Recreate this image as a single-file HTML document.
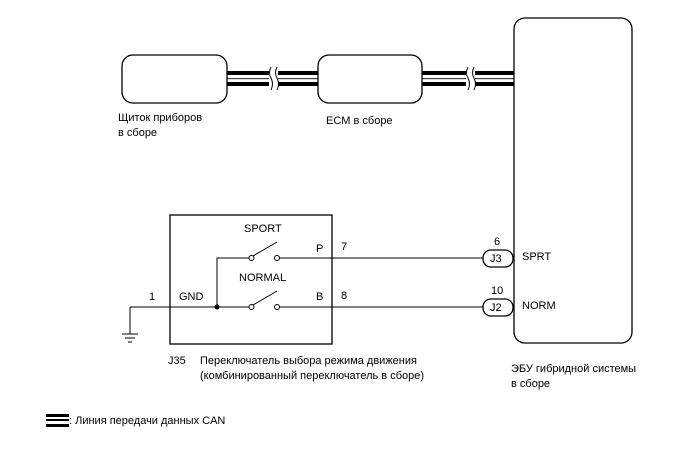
<!DOCTYPE html>
<html><head><meta charset="utf-8"><style>
body{margin:0;background:#fff}
svg text{font-family:"Liberation Sans",Arial,sans-serif;font-size:11px;fill:#000}
</style></head><body>
<svg width="688" height="463" viewBox="0 0 688 463" xmlns="http://www.w3.org/2000/svg">
<g id="cable">
<rect x="227" y="71" width="91" height="4" fill="#000"/>
<rect x="227" y="78" width="91" height="1.2" fill="#444"/>
<rect x="227" y="82" width="91" height="4" fill="#000"/>
<rect x="422" y="71" width="92" height="4" fill="#000"/>
<rect x="422" y="78" width="92" height="1.2" fill="#444"/>
<rect x="422" y="82" width="92" height="4" fill="#000"/>
</g>
<rect x="269" y="66" width="9" height="26" fill="#fff"/>
<rect x="466" y="66" width="9" height="26" fill="#fff"/>
<path d="M271 67 q-3 6 0 11 q3 6 0 12 M277 67 q-3 6 0 11 q3 6 0 12" fill="none" stroke="#000"/>
<path d="M468 67 q-3 6 0 11 q3 6 0 12 M474 67 q-3 6 0 11 q3 6 0 12" fill="none" stroke="#000"/>
<rect x="122" y="55" width="105" height="48" rx="11" fill="#fff" stroke="#000" stroke-width="1.3"/>
<rect x="318" y="55" width="104" height="48" rx="11" fill="#fff" stroke="#000" stroke-width="1.3"/>
<rect x="514" y="18" width="118" height="325" rx="11" fill="#fff" stroke="#000" stroke-width="1.3"/>
<text x="118" y="121">Щиток приборов</text>
<text x="118" y="136">в сборе</text>
<text x="326" y="124">ECM в сборе</text>
<text x="511" y="372">ЭБУ гибридной системы</text>
<text x="511" y="387">в сборе</text>
<rect x="170" y="215" width="162" height="129" fill="none" stroke="#000" stroke-width="1.3"/>
<g stroke="#000" fill="none" stroke-width="1">
<path d="M130 307 H249 M130 307 V334 M122 334 H138 M125 338 H135 M128 342 H132"/>
<path d="M217 307 V258 H249"/>
<path d="M279 258 H483 M279 307 H483"/>
<circle cx="251.5" cy="258" r="2.5" fill="#fff"/><circle cx="277" cy="258" r="2.5" fill="#fff"/>
<circle cx="251.5" cy="307" r="2.5" fill="#fff"/><circle cx="277" cy="307" r="2.5" fill="#fff"/>
<path d="M253 256 L277 242 M253 305 L277 291"/>
<rect x="483" y="250" width="30" height="17" rx="8" fill="#fff" stroke-width="1.3"/>
<rect x="483" y="299" width="30" height="17" rx="8" fill="#fff" stroke-width="1.3"/>
</g>
<circle cx="217" cy="307" r="2.5" fill="#000"/>
<text x="244" y="232">SPORT</text>
<text x="239" y="281">NORMAL</text>
<text x="316" y="252">P</text><text x="341" y="250">7</text>
<text x="316" y="300">B</text><text x="341" y="299">8</text>
<text x="149" y="300">1</text><text x="179" y="300">GND</text>
<text x="490" y="262">J3</text><text x="490" y="311">J2</text>
<text x="494" y="245">6</text><text x="491" y="294">10</text>
<text x="522" y="260">SPRT</text><text x="522" y="309">NORM</text>
<text x="168" y="364">J35</text>
<text x="200" y="364">Переключатель выбора режима движения</text>
<text x="200" y="379">(комбинированный переключатель в сборе)</text>
<rect x="46" y="414" width="23" height="3" fill="#000"/>
<rect x="46" y="419" width="23" height="2" fill="#000"/>
<rect x="46" y="424" width="23" height="3" fill="#000"/>
<text x="69" y="424">: Линия передачи данных CAN</text>
</svg>
</body></html>
